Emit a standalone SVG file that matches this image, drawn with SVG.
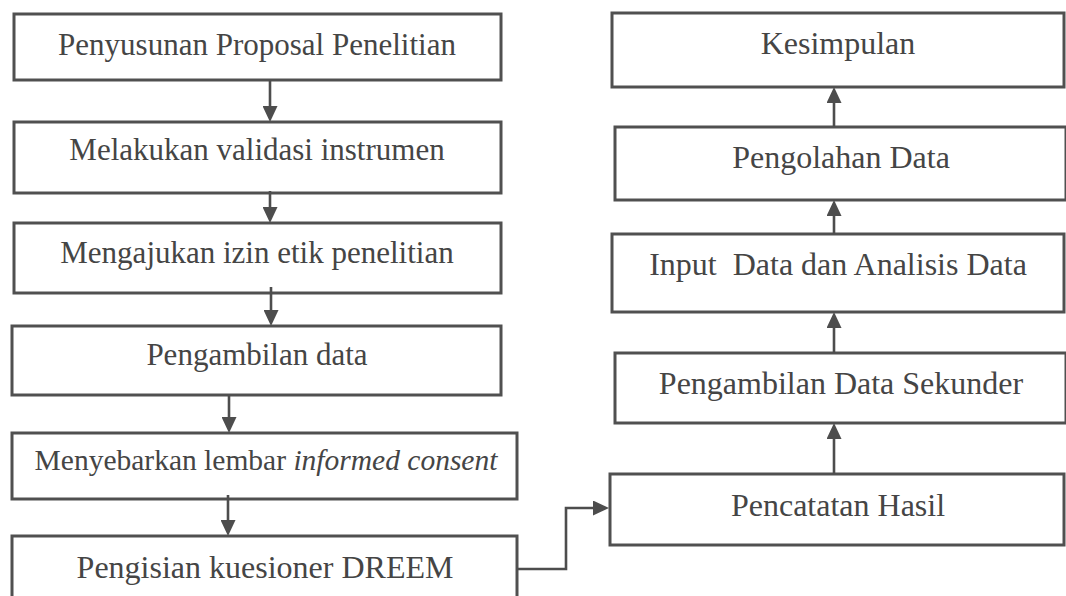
<svg xmlns="http://www.w3.org/2000/svg" width="1066" height="596" viewBox="0 0 1066 596">
<style>
.box{fill:#fff;stroke:#505050;stroke-width:3}
.t{font-family:"Liberation Serif","Times New Roman",serif;font-size:31px;fill:#454545;text-anchor:middle}
.s{font-size:29.5px}
.r{font-size:32px}
.c{fill:none;stroke:#4d4d4d;stroke-width:2.6}
</style>
<defs>
<marker id="ah" viewBox="0 0 16 15" refX="7" refY="7.5" markerWidth="16" markerHeight="15" markerUnits="userSpaceOnUse" orient="auto">
<path d="M0,0 L16,7.5 L0,15 z" fill="#4d4d4d"/>
</marker>
</defs>
<rect width="1066" height="596" fill="#fff"/>
<g id="n1"><rect class="box" x="14" y="14" width="487" height="66"/><text class="t" x="257" y="55">Penyusunan Proposal Penelitian</text></g>
<g id="n2"><rect class="box" x="14" y="122" width="487" height="71"/><text class="t" x="257" y="160">Melakukan validasi instrumen</text></g>
<g id="n3"><rect class="box" x="14" y="223" width="487" height="70"/><text class="t" x="257" y="263">Mengajukan izin etik penelitian</text></g>
<g id="n4"><rect class="box" x="12" y="326" width="489" height="69"/><text class="t" x="257" y="365">Pengambilan data</text></g>
<g id="n5"><rect class="box" x="12" y="433" width="505" height="66"/><text class="t s" x="266" y="470">Menyebarkan lembar <tspan font-style="italic">informed consent</tspan></text></g>
<g id="n6"><rect class="box" x="12" y="536" width="505" height="80"/><text class="t r" x="265" y="578">Pengisian kuesioner DREEM</text></g>
<g id="n7"><rect class="box" x="610" y="474" width="454" height="71"/><text class="t r" x="838" y="516">Pencatatan Hasil</text></g>
<g id="n8"><rect class="box" x="615" y="353" width="451" height="70"/><text class="t r" x="841" y="394">Pengambilan Data Sekunder</text></g>
<g id="n9"><rect class="box" x="612" y="234" width="452" height="78"/><text class="t r" x="838" y="275" xml:space="preserve">Input  Data dan Analisis Data</text></g>
<g id="n10"><rect class="box" x="615" y="127" width="451" height="73"/><text class="t r" x="841" y="168">Pengolahan Data</text></g>
<g id="n11"><rect class="box" x="612" y="13" width="452" height="74"/><text class="t r" x="838" y="54">Kesimpulan</text></g>
<g id="connectors">
<path class="c" d="M270,80 V113" marker-end="url(#ah)"/>
<path class="c" d="M270,191 V214" marker-end="url(#ah)"/>
<path class="c" d="M271,287 V317" marker-end="url(#ah)"/>
<path class="c" d="M229,395 V424" marker-end="url(#ah)"/>
<path class="c" d="M228,495 V527" marker-end="url(#ah)"/>
<path class="c" d="M517,569 H566 V508 H600" marker-end="url(#ah)"/>
<path class="c" d="M834,474 V432" marker-end="url(#ah)"/>
<path class="c" d="M834,353 V321" marker-end="url(#ah)"/>
<path class="c" d="M834,234 V209" marker-end="url(#ah)"/>
<path class="c" d="M834,127 V96" marker-end="url(#ah)"/>
</g>
</svg>
